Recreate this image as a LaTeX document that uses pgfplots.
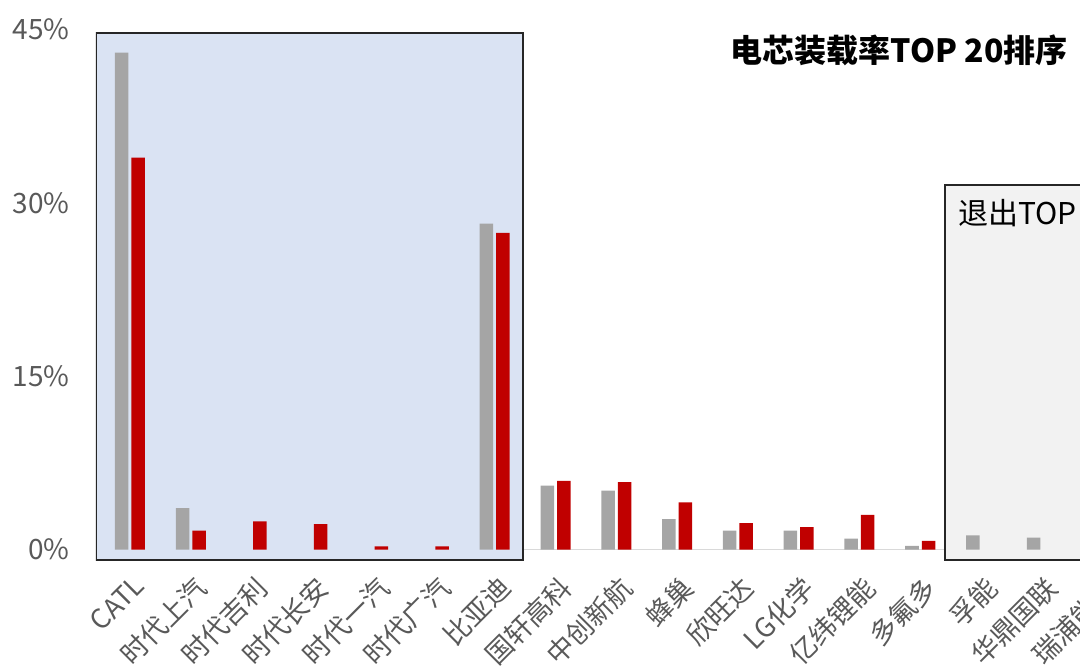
\documentclass[border=0pt]{standalone}
\usepackage{fontspec}
\setmainfont{Noto Sans CJK SC}
\usepackage{pgfplots}
\pgfplotsset{compat=1.18}
\definecolor{barg}{HTML}{A5A5A5}
\definecolor{barr}{HTML}{C00000}
\definecolor{boxblue}{HTML}{DAE3F3}
\definecolor{boxgray}{HTML}{F2F2F2}
\definecolor{txt}{HTML}{595959}
\definecolor{base}{HTML}{D9D9D9}
\begin{document}
\begin{tikzpicture}
\useasboundingbox (0,0) rectangle (540pt,335.5pt);
\clip (0,0) rectangle (540pt,335.5pt);
\begin{axis}[
  at={(48pt,52pt)}, anchor=south west,
  scale only axis, width=518.5pt, height=268.8pt,
  xmin=-0.559, xmax=16.5, ymin=-1.5, ymax=45,
  axis line style={draw=none}, major tick length=0pt,
  /pgf/number format/assume math mode=true,
  ytick={0,15,30,45}, yticklabels={0\%,15\%,30\%,45\%},
  yticklabel style={anchor=east, inner sep=0pt, xshift=-13pt, font=\fontsize{14pt}{16pt}\selectfont, text=txt},
  xtick={0,...,16},
  xticklabels={CATL,时代上汽,时代吉利,时代长安,时代一汽,时代广汽,比亚迪,国轩高科,中创新航,蜂巢,欣旺达,LG化学,亿纬锂能,多氟多,孚能,华鼎国联,瑞浦能源},
  xticklabel style={rotate=45, anchor=north east, inner sep=0pt, yshift=-3pt, xshift=-1.5pt, font=\fontsize{13.5pt}{15pt}\selectfont, text=txt},
  ybar=1.5pt, bar width=6.75pt,
]
\draw[base, line width=0.6pt] (axis cs:-0.559,0) -- (axis cs:16.5,0);
\draw[fill=boxblue, draw=black!85, line width=1pt] (axis cs:-0.56,-0.86) rectangle (axis cs:6.46,44.7);
\draw[fill=boxgray, draw=black!85, line width=1pt] (axis cs:13.4,-0.86) rectangle (axis cs:17,31.5);
\addplot[fill=barg, draw=none] coordinates {
 (0,43.0) (1,3.6) (6,28.2) (7,5.55) (8,5.1) (9,2.65) (10,1.64) (11,1.64) (12,0.95) (13,0.32) (14,1.24) (15,1.04)};
\addplot[fill=barr, draw=none] coordinates {
 (0,33.9) (1,1.64) (2,2.45) (3,2.2) (4,0.28) (5,0.28) (6,27.4) (7,5.95) (8,5.85) (9,4.1) (10,2.3) (11,1.96) (12,3.0) (13,0.75)};
\end{axis}
\node[anchor=east, inner sep=0pt, font=\fontsize{16pt}{18pt}\selectfont\bfseries] at (534pt,310.5pt) {电芯装载率TOP 20排序};
\node[anchor=west, inner sep=0pt, font=\fontsize{15pt}{17pt}\selectfont] at (479pt,229pt) {退出TOP 20};
\end{tikzpicture}
\end{document}
